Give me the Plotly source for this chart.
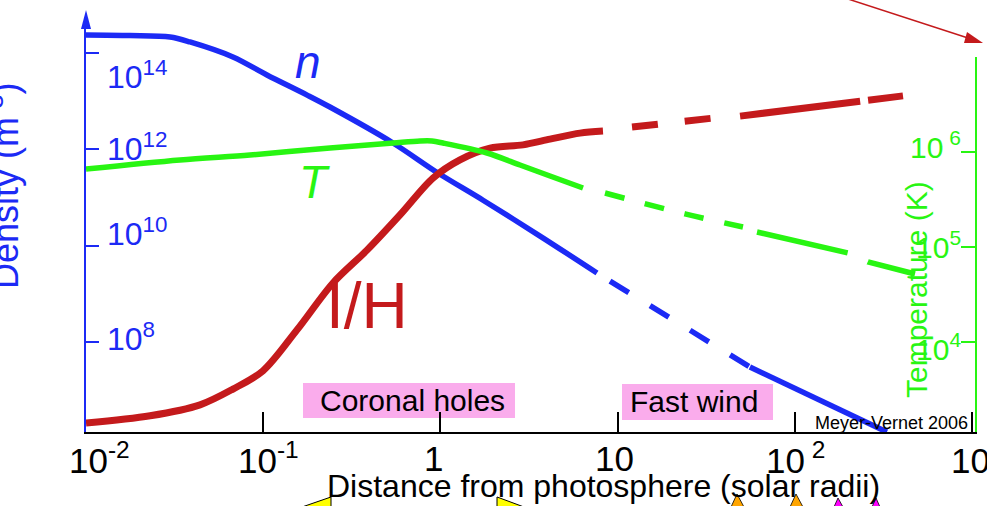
import math
import plotly.graph_objects as go

# ---------------------------------------------------------------------------
# Solar corona / wind profiles versus distance from the photosphere
# ---------------------------------------------------------------------------

# Density n (m^-3): solid near the Sun, dashed across the gap, solid far out
n_r_inner = [0.0100, 0.0177, 0.0298, 0.0386, 0.0675, 0.105, 0.177, 0.238,
             0.540, 0.969, 1.74, 3.65, 7.65]
n_inner = [2.33e14, 2.27e14, 2.12e14, 1.67e14, 8.15e13, 3.45e13, 1.32e13,
           7.46e12, 1.34e12, 3.19e11, 8.7e10, 1.57e10, 2.69e9]
n_r_gap = [9.06, 55.8]
n_gap = [1.83e9, 3.01e7]
n_r_outer = [55.8, 139.0, 331.0]
n_outer = [3.01e7, 6.2e6, 1.35e6]

# Temperature T (K)
t_r_inner = [0.0100, 0.0339, 0.0842, 0.238, 0.540, 0.767, 0.897, 1.034,
             1.832, 2.813, 4.155, 6.38]
t_inner = [6.62e5, 8.24e5, 9.30e5, 1.102e6, 1.244e6, 1.306e6, 1.306e6,
           1.244e6, 9.76e5, 7.30e5, 5.59e5, 4.18e5]
t_r_gap = [8.49, 24.0, 51.0]
t_gap = [3.70e5, 2.23e5, 1.624e5]
t_r_outer = [61.2, 199.6, 258.9, 476.8]
t_outer = [1.438e5, 8.65e4, 6.95e4, 5.20e4]

# I/H profile (relative units, no axis of its own)
ih_r_inner = [0.0100, 0.0230, 0.0440, 0.0675, 0.0997, 0.1551, 0.2477, 0.3853,
              0.5916, 0.908, 1.290, 1.905, 2.925, 4.155, 6.135, 8.27]
ih_inner = [0.022, 0.040, 0.067, 0.106, 0.151, 0.252, 0.368, 0.449,
            0.536, 0.627, 0.672, 0.701, 0.709, 0.723, 0.738, 0.743]
ih_r_gap = [12.06, 16.9, 24.0, 34.5]
ih_gap = [0.753, 0.761, 0.770, 0.775]
ih_r_outer = [49.1, 233.4, 407.9]
ih_outer = [0.780, 0.820, 0.830]

# Axis ticks and labels
x_tickvals = [0.01, 0.1, 1, 10, 100, 1000]
x_ticktext = ["10<sup>-2</sup>", "10<sup>-1</sup>", "1", "10",
              "10<sup> 2</sup>", "10<sup>3</sup>"]
n_tickvals = [1e8, 1e10, 1e12, 1e14]
n_ticktext = ["10<sup>8</sup>", "10<sup>10</sup>", "10<sup>12</sup>",
              "10<sup>14</sup>"]
t_tickvals = [1e4, 1e5, 1e6, 1e7]
t_labelvals = [1e4, 1e5, 1e6]
t_ticktext = ["10<sup>4</sup>", "10<sup>5</sup>", "10<sup> 6</sup>"]

# ---------------------------------------------------------------------------
W, H = 987, 506
BLUE = "rgb(28,42,245)"
GREEN = "rgb(40,245,18)"
RED = "rgb(196,26,28)"
PINK = "rgb(250,172,236)"
FONT = "Liberation Sans, Arial, sans-serif"


def px(x):
    return x / W


def py(y):
    return 1 - y / H


fig = go.Figure()


def curve(r, v, axis, color, width, dash="solid", smooth=True):
    line = dict(color=color, width=width, dash=dash)
    if smooth:
        line.update(shape="spline", smoothing=0.9)
    return go.Scatter(x=r, y=v, mode="lines", yaxis=axis, line=line,
                      hoverinfo="skip")


# Density
fig.add_trace(curve(n_r_inner, n_inner, "y", BLUE, 5.5))
fig.add_trace(curve(n_r_gap, n_gap, "y", BLUE, 5.5, "22px,25px", False))
fig.add_trace(curve(n_r_outer, n_outer, "y", BLUE, 5.5, smooth=False))

# Temperature
fig.add_trace(curve(t_r_inner, t_inner, "y2", GREEN, 5.5))
fig.add_trace(curve(t_r_gap, t_gap, "y2", GREEN, 5.5, "20px,21px"))
fig.add_trace(curve(t_r_outer, t_outer, "y2", GREEN, 5.5, "93px,22px", False))

# I/H
fig.add_trace(curve(ih_r_inner, ih_inner, "y3", RED, 7))
fig.add_trace(curve(ih_r_gap, ih_gap, "y3", RED, 7, "26px,27px", False))
fig.add_trace(curve(ih_r_outer, ih_outer, "y3", RED, 7, "121px,8px", False))

x0, x1 = 86, 977
y_bot = 432
fig.update_layout(
    width=W, height=H,
    margin=dict(l=0, r=0, t=0, b=0),
    paper_bgcolor="white", plot_bgcolor="rgba(0,0,0,0)",
    showlegend=False,
    font=dict(family=FONT),
    xaxis=dict(
        type="log", domain=[px(x0), px(x1)], range=[-2, -2 + (x1 - x0) / 177.2],
        showgrid=False, zeroline=False, showline=True, linecolor="black",
        linewidth=1.5, ticks="inside", ticklen=20, tickwidth=1.5,
        tickcolor="black", tickvals=x_tickvals, showticklabels=False,
        anchor="y",
    ),
    yaxis=dict(
        type="log", domain=[py(y_bot), py(27)],
        range=[14 - (y_bot - 52.7) / 48.2, 14 + (52.7 - 27) / 48.2],
        showgrid=False, zeroline=False, showline=True, linecolor=BLUE,
        linewidth=1.5, ticks="inside", ticklen=13, tickwidth=1.5,
        tickcolor=BLUE, tickvals=n_tickvals, showticklabels=False,
        anchor="x",
    ),
    yaxis2=dict(
        type="log", domain=[py(y_bot), py(57)],
        range=[7 - (y_bot - 57) / 95, 7],
        showgrid=False, zeroline=False, showline=True, linecolor=GREEN,
        linewidth=1.5, ticks="inside", ticklen=14, tickwidth=1.5,
        tickcolor=GREEN, tickvals=t_tickvals, showticklabels=False,
        anchor="free", position=px(976), side="right",
    ),
    yaxis3=dict(
        range=[0, 1], overlaying="y", visible=False,
    ),
)

ann = []


def text_at(x, y, text, size, color, angle=0):
    """Centred text placed in pixel coordinates of the page."""
    return dict(x=px(x), y=py(y), xref="paper", yref="paper", text=text,
                showarrow=False, xanchor="center", yanchor="middle",
                textangle=angle, font=dict(size=size, color=color))


# x tick labels
x_label_shift = [13, 5, -7, -3, 1, 5]
for v, t, s in zip(x_tickvals, x_ticktext, x_label_shift):
    ann.append(dict(x=math.log10(v), xref="x", y=py(458), yref="paper",
                    text=t, showarrow=False, xanchor="center", yanchor="middle",
                    xshift=s, font=dict(size=35, color="black")))

# density tick labels (inside the axis, to the right)
n_label_shift = [5, 14, 2, -22]
for v, t, s in zip(n_tickvals, n_ticktext, n_label_shift):
    ann.append(dict(x=px(105), xref="paper", y=math.log10(v), yref="y",
                    text=t, showarrow=False, xanchor="left", yanchor="middle",
                    yshift=s, font=dict(size=32, color=BLUE)))

# temperature tick labels (inside the axis, to the left)
t_label_shift = [-5, 2, 7]
for v, t, s in zip(t_labelvals, t_ticktext, t_label_shift):
    ann.append(dict(x=px(963), xref="paper", y=math.log10(v), yref="y2",
                    text=t, showarrow=False, xanchor="right", yanchor="middle",
                    yshift=s, font=dict(size=30, color=GREEN)))

# axis titles
ann.append(text_at(603, 486, "Distance from photosphere (solar radii)", 32, "black"))
ann.append(text_at(916, 290, "Temperature (K)", 30, GREEN, -90))
ann.append(text_at(3, 186, "Density (m<sup>-3</sup>)", 36, BLUE, -90))

# curve labels
ann.append(text_at(308, 62, "<i>n</i>", 46, BLUE))
ann.append(text_at(314, 182, "<i>T</i>", 46, GREEN))
ann.append(text_at(367, 306, "I/H", 64, RED))

# region labels
ann.append(text_at(412, 400, "Coronal holes", 30, "black"))
ann.append(text_at(694, 401, "Fast wind", 30, "black"))
ann.append(text_at(891, 423, "Meyer-Vernet 2006", 18, "black"))

fig.update_layout(annotations=ann)


def path(points, close=True):
    s = "M " + " L ".join(f"{px(x):.5f},{py(y):.5f}" for x, y in points)
    return s + (" Z" if close else "")


shapes = [
    # shaded region boxes
    dict(type="rect", xref="paper", yref="paper", x0=px(303), x1=px(515),
         y0=py(418), y1=py(383), fillcolor=PINK, line=dict(width=0), layer="below"),
    dict(type="rect", xref="paper", yref="paper", x0=px(622), x1=px(773),
         y0=py(420), y1=py(384), fillcolor=PINK, line=dict(width=0), layer="below"),
    # arrowhead on the density axis
    dict(type="path", xref="paper", yref="paper",
         path=path([(81, 29), (86, 10), (91, 29)]),
         fillcolor=BLUE, line=dict(width=0)),
    # red pointer at top right
    dict(type="line", xref="paper", yref="paper", x0=px(848), y0=py(-1),
         x1=px(968), y1=py(38), line=dict(color=RED, width=1.5)),
    dict(type="path", xref="paper", yref="paper",
         path=path([(967, 32), (983, 43), (964, 43)]),
         fillcolor=RED, line=dict(width=0)),
    # fragments of figures below the frame
    dict(type="path", xref="paper", yref="paper",
         path=path([(302, 507), (331, 497), (331, 507)]),
         fillcolor="yellow", line=dict(color="black", width=1)),
    dict(type="path", xref="paper", yref="paper",
         path=path([(497, 497), (497, 507), (524, 507)]),
         fillcolor="yellow", line=dict(color="black", width=1)),
    dict(type="path", xref="paper", yref="paper",
         path=path([(731, 507), (737, 494), (744, 507)]),
         fillcolor="orange", line=dict(color="black", width=0.8)),
    dict(type="path", xref="paper", yref="paper",
         path=path([(790, 507), (796, 494), (803, 507)]),
         fillcolor="orange", line=dict(color="black", width=0.8)),
    dict(type="path", xref="paper", yref="paper",
         path=path([(834, 507), (838, 498), (843, 507)]),
         fillcolor="magenta", line=dict(color="black", width=0.8)),
    dict(type="path", xref="paper", yref="paper",
         path=path([(872, 507), (876, 498), (880, 507)]),
         fillcolor="magenta", line=dict(color="black", width=0.8)),
]
fig.update_layout(shapes=shapes)

fig.write_html("out.html")
